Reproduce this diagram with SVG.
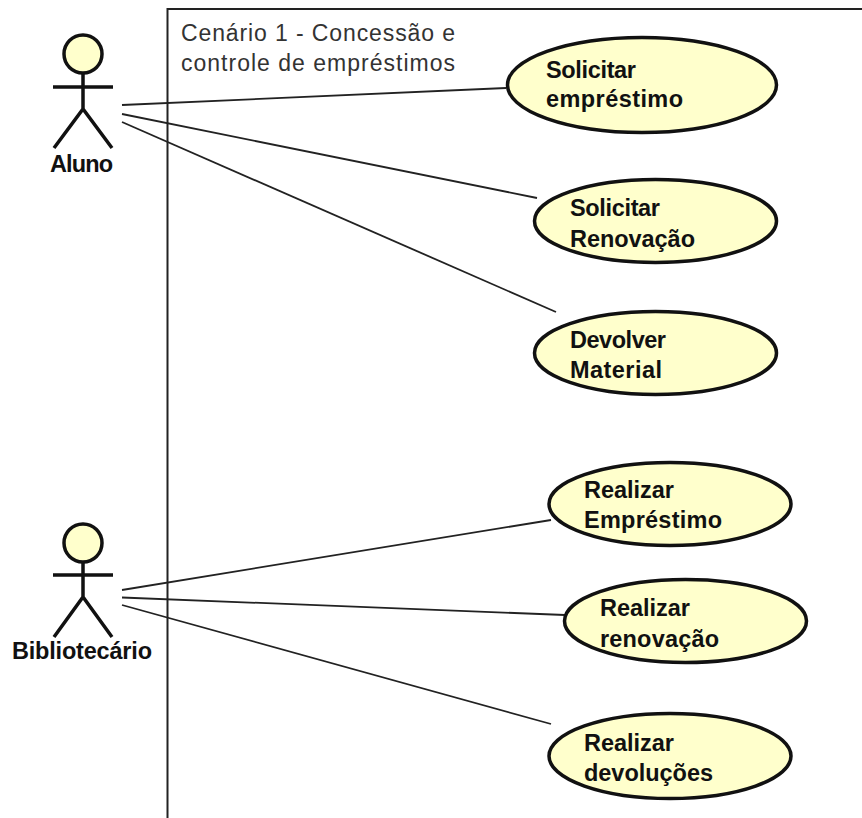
<svg xmlns="http://www.w3.org/2000/svg" width="862" height="818" viewBox="0 0 862 818">
<style>
.uc{fill:#ffffcc;stroke:#111;stroke-width:3.5}
.head{fill:#ffffcc;stroke:#111;stroke-width:3.5}
.limb{fill:none;stroke:#111;stroke-width:3.5}
.conn{fill:none;stroke:#222;stroke-width:1.8}
.frame{fill:none;stroke:#222;stroke-width:2}
text{font-family:"Liberation Sans",Arial,sans-serif}
.b{font-size:23.500px;font-weight:bold;fill:#111}
.t{font-size:23px;fill:#333}
</style>
<rect width="862" height="818" fill="#fff"/>
<g id="frame"><path class="frame" d="M862 9H167.500V818"/>
<text class="t" x="181" y="41" textLength="274">Cenário 1 - Concessão e</text>
<text class="t" x="181" y="71" textLength="274">controle de empréstimos</text></g>
<g id="connectors">
<path class="conn" d="M122 105L506 88"/>
<path class="conn" d="M122 114L537 198"/>
<path class="conn" d="M122 122L556 312"/>
<path class="conn" d="M122 590L551 520"/>
<path class="conn" d="M122 597.500L565 615"/>
<path class="conn" d="M122 605L551 724"/>
</g>
<g id="actor-aluno">
<circle class="head" cx="83" cy="54" r="19"/>
<path class="limb" d="M83 73V109M53 87H113M54 148L83 109L112 148"/>
<text class="b" x="50" y="172" textLength="63">Aluno</text>
</g>
<g id="actor-bibliotecario">
<circle class="head" cx="83" cy="543" r="19"/>
<path class="limb" d="M83 562V597M53 575H113M54 637L83 597L112 637"/>
<text class="b" x="12" y="659" textLength="140">Bibliotecário</text>
</g>
<g id="uc-solicitar-emprestimo"><ellipse class="uc" cx="642" cy="85" rx="134.500" ry="47.500"/>
<text class="b" x="546" y="78" textLength="90">Solicitar</text><text class="b" x="546" y="107" textLength="137">empréstimo</text></g>
<g id="uc-solicitar-renovacao"><ellipse class="uc" cx="655.500" cy="221" rx="121" ry="41.500"/>
<text class="b" x="570" y="216" textLength="90">Solicitar</text><text class="b" x="570" y="247" textLength="125">Renovação</text></g>
<g id="uc-devolver-material"><ellipse class="uc" cx="655.500" cy="353" rx="121" ry="41.500"/>
<text class="b" x="570" y="348" textLength="96">Devolver</text><text class="b" x="570" y="378" textLength="92">Material</text></g>
<g id="uc-realizar-emprestimo"><ellipse class="uc" cx="670" cy="504" rx="121" ry="41.500"/>
<text class="b" x="584" y="498" textLength="90">Realizar</text><text class="b" x="584" y="528" textLength="138">Empréstimo</text></g>
<g id="uc-realizar-renovacao"><ellipse class="uc" cx="685.500" cy="621" rx="121" ry="41.500"/>
<text class="b" x="600" y="616" textLength="90">Realizar</text><text class="b" x="600" y="647" textLength="119">renovação</text></g>
<g id="uc-realizar-devolucoes"><ellipse class="uc" cx="670" cy="756" rx="121" ry="42.500"/>
<text class="b" x="584" y="751" textLength="90">Realizar</text><text class="b" x="584" y="781" textLength="129">devoluções</text></g>
</svg>
